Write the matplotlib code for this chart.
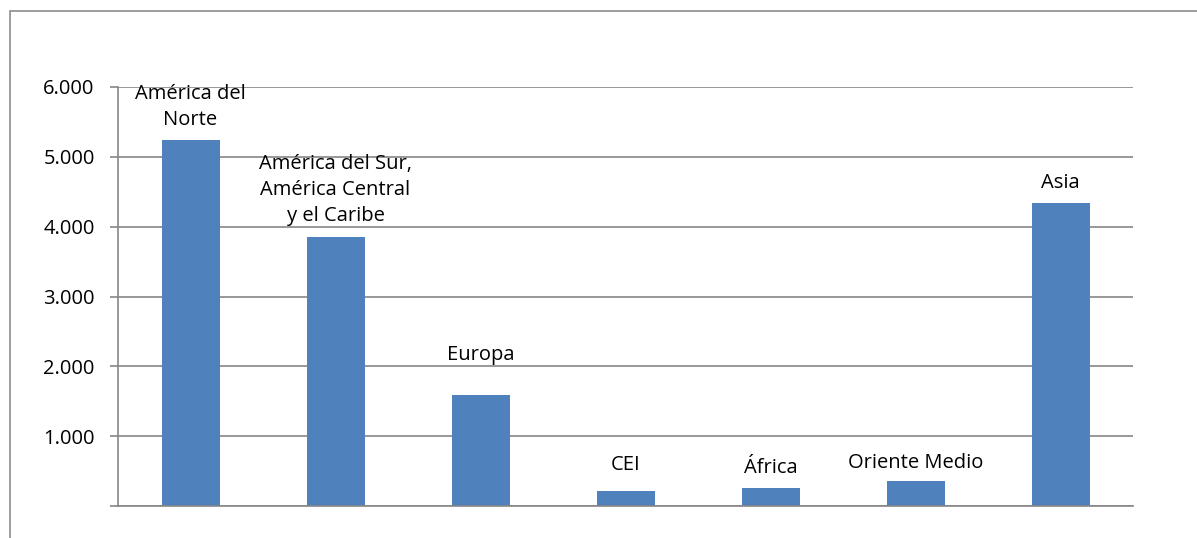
import matplotlib
matplotlib.use("Agg")
import matplotlib.pyplot as plt
from matplotlib.patches import Rectangle

# Regions and their values
regions = [
    "América del\nNorte",
    "América del Sur,\nAmérica Central\ny el Caribe",
    "Europa",
    "CEI",
    "África",
    "Oriente Medio",
    "Asia",
]
values = [5240, 3850, 1590, 210, 260, 360, 4340]
# vertical lift of each label centre above its bar (pixels)
label_lift = [33, 47, 40, 26, 20, 18, 20]

y_ticks = [0, 1000, 2000, 3000, 4000, 5000, 6000]
y_tick_labels = ["", "1.000", "2.000", "3.000", "4.000", "5.000", "6.000"]

BAR = "#4F81BD"
GRID = "#868686"
FONT = "Open Sans"

W, H = 1197, 538
fig = plt.figure(figsize=(W / 100, H / 100), dpi=100)
fig.patch.set_facecolor("white")

# outer chart frame (runs off the right and bottom edges)
fig.patches.append(Rectangle((9.5 / W, -0.1), 1.2, (H - 10.5) / H + 0.1,
                             transform=fig.transFigure, fill=False,
                             edgecolor="#8C8C8C", linewidth=1.2))

ax = fig.add_axes([118 / W, (H - 506) / H, 1015 / W, 419 / H])
x = list(range(len(regions)))
ax.bar(x, values, width=0.4, color=BAR, zorder=3)

ax.set_xlim(-0.5, len(regions) - 0.5)
ax.set_ylim(0, 6000)
ax.set_yticks(y_ticks)
ax.set_yticklabels(y_tick_labels, fontfamily=FONT, fontsize=14.5)
ax.set_xticks([])
ax.yaxis.grid(True, color=GRID, linewidth=1.2, zorder=0)
ax.tick_params(axis="y", length=5.8, width=1.2, color=GRID, pad=11)

for side in ("top", "right"):
    ax.spines[side].set_visible(False)
for side in ("left", "bottom"):
    ax.spines[side].set_color(GRID)
    ax.spines[side].set_linewidth(1.2)
    ax.spines[side].set_zorder(4)

for xi, v, lbl, lift in zip(x, values, regions, label_lift):
    ax.annotate(lbl, (xi, v), xytext=(0, lift), textcoords="offset pixels",
                ha="center", va="center", multialignment="center",
                fontfamily=FONT, fontsize=14.5, linespacing=1.38, zorder=5)

fig.savefig("out.png", dpi=100)
